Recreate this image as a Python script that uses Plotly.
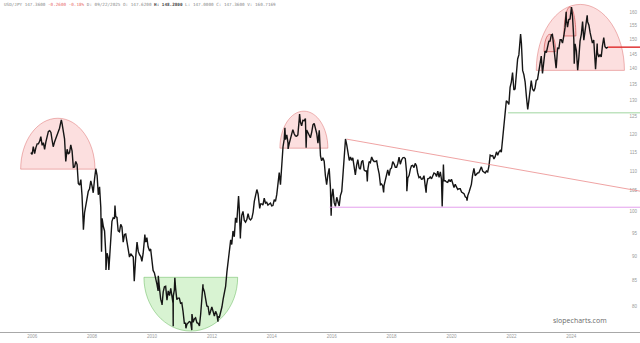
import plotly.graph_objects as go
import pandas as pd
import numpy as np

# ---------------- data (USD/JPY) ----------------
# month-end closes, Jun 2006 .. Aug 2025
monthly_close = [
    114.4, 114.6, 117.3, 118.0, 116.9, 115.8, 119.0,                                   # 2006 Jun-Dec
    121.0, 118.5, 117.8, 119.5, 121.7, 123.2, 118.7, 115.8, 114.9, 115.3, 111.1, 111.7,  # 2007
    106.4, 103.9, 99.7, 103.9, 105.5, 106.2, 108.0, 108.8, 106.0, 98.4, 95.5, 90.6,      # 2008
    89.9, 97.7, 98.3, 98.6, 95.3, 96.4, 94.7, 93.0, 89.8, 90.1, 86.4, 93.0,              # 2009
    90.3, 88.9, 93.5, 94.0, 91.2, 88.4, 86.5, 84.2, 83.5, 80.4, 83.7, 81.1,              # 2010
    82.0, 81.8, 83.1, 81.2, 81.5, 80.6, 76.8, 76.6, 77.1, 78.2, 77.6, 76.9,              # 2011
    76.3, 81.1, 82.8, 80.0, 78.3, 79.8, 78.1, 78.4, 77.9, 79.8, 82.5, 86.7,              # 2012
    91.7, 92.5, 94.2, 97.4, 100.5, 99.1, 97.9, 98.1, 98.3, 98.4, 102.4, 105.3,           # 2013
    102.0, 101.8, 103.2, 102.2, 101.8, 101.3, 102.8, 104.1, 109.6, 112.3, 118.6, 119.8,  # 2014
    117.5, 119.6, 120.1, 119.4, 124.1, 122.4, 123.9, 121.2, 119.9, 120.6, 123.1, 120.2,  # 2015
    121.1, 112.7, 112.6, 106.5, 110.7, 103.2, 102.1, 103.4, 101.3, 104.8, 114.5, 117.0,  # 2016
    112.8, 112.8, 111.4, 111.5, 110.8, 112.4, 110.3, 110.0, 112.5, 113.7, 112.5, 112.7,  # 2017
    109.2, 106.7, 106.3, 109.3, 108.8, 110.8, 111.9, 111.0, 113.7, 112.9, 113.6, 109.7,  # 2018
    108.9, 111.4, 110.9, 111.4, 108.3, 107.9, 108.8, 106.3, 108.1, 108.0, 109.5, 108.6,  # 2019
    108.4, 107.9, 107.5, 107.2, 107.8, 107.9, 105.8, 105.9, 105.5, 104.7, 104.3, 103.3,  # 2020
    104.7, 106.6, 110.7, 109.3, 109.6, 111.1, 109.7, 110.0, 111.3, 114.0, 113.2, 115.1,  # 2021
    115.1, 115.0, 121.7, 129.8, 128.7, 135.7, 133.2, 138.9, 144.7, 148.7, 138.1, 131.1,  # 2022
    130.1, 136.2, 132.8, 136.3, 139.3, 144.3, 142.3, 145.5, 149.4, 151.7, 148.2, 141.0,  # 2023
    146.9, 150.0, 151.3, 157.8, 157.3, 160.9, 150.0, 146.2, 143.6, 152.0, 149.8, 157.2,  # 2024
    155.2, 150.6, 149.9, 143.1, 144.0, 144.0, 150.7, 147.0,                              # 2025 Jan-Aug
]
# mid-month levels (15th), Jun 2006 .. Aug 2025
mid_month = [
    114.9, 116.5, 116.2, 117.3, 119.3, 117.6, 117.8,                                   # 2006
    120.8, 120.5, 116.5, 118.8, 120.6, 123.4, 121.5, 112.5, 114.5, 117.0, 111.0, 112.5,  # 2007
    106.8, 107.8, 97.0, 101.8, 104.8, 107.5, 104.5, 110.2, 104.0, 101.0, 96.5, 90.5,     # 2008
    89.5, 91.8, 98.5, 98.8, 95.5, 97.0, 93.0, 94.8, 91.0, 90.5, 89.8, 89.8,              # 2009
    91.0, 89.9, 90.5, 93.0, 92.0, 91.5, 87.0, 85.5, 84.8, 81.3, 82.7, 83.8,              # 2010
    82.9, 83.4, 80.5, 83.5, 81.5, 80.5, 79.0, 76.8, 76.9, 77.0, 77.0, 77.8,              # 2011
    76.8, 78.5, 83.5, 80.8, 79.9, 79.0, 79.0, 79.0, 78.0, 78.8, 81.3, 83.8,              # 2012
    89.0, 93.5, 95.5, 98.5, 102.5, 95.0, 100.0, 97.5, 99.5, 98.0, 99.8, 103.5,           # 2013
    104.2, 101.8, 101.5, 102.0, 101.5, 102.0, 101.4, 102.4, 107.2, 106.5, 116.5, 118.5,  # 2014
    117.5, 118.8, 121.3, 119.5, 119.8, 123.5, 124.0, 124.5, 120.5, 119.0, 122.7, 121.5,  # 2015
    117.5, 114.0, 113.5, 108.8, 109.0, 105.8, 105.5, 101.2, 102.2, 103.8, 109.0, 118.0,  # 2016
    114.5, 113.7, 113.5, 109.0, 113.0, 110.5, 112.8, 110.0, 110.5, 112.2, 112.9, 112.5,  # 2017
    110.8, 106.5, 106.2, 107.5, 110.3, 110.5, 112.5, 111.0, 112.0, 111.8, 113.5, 113.3,  # 2018
    108.2, 110.5, 111.5, 112.0, 109.5, 108.5, 108.0, 106.2, 108.0, 108.5, 108.8, 109.3,  # 2019
    110.0, 109.8, 107.0, 107.5, 107.1, 107.3, 107.0, 106.6, 105.3, 105.5, 104.5, 103.5,  # 2020
    103.8, 105.5, 109.0, 108.8, 109.5, 110.5, 110.0, 109.5, 109.8, 114.2, 114.1, 113.8,  # 2021
    114.2, 115.5, 118.5, 126.5, 129.5, 134.0, 138.8, 133.5, 143.3, 148.5, 139.5, 135.8,  # 2022
    128.5, 133.5, 133.5, 133.8, 136.5, 141.5, 138.5, 146.0, 147.5, 149.5, 151.3, 142.2,  # 2023
    147.0, 150.0, 148.8, 154.3, 154.5, 157.5, 158.5, 148.5, 140.8, 149.5, 156.5, 154.0,  # 2024
    156.5, 152.5, 148.8, 143.0, 145.5, 144.8, 147.8, 147.5,                              # 2025
]
month_end_dates = pd.date_range("2006-06-30", periods=len(monthly_close), freq="ME")
mid_dates = pd.date_range("2006-06-01", periods=len(mid_month), freq="MS") + pd.Timedelta(days=14)

# notable intra-month extremes
extreme_dates = [
    "2007-06-22", "2008-03-17", "2008-08-15", "2008-10-24", "2008-12-17", "2009-01-21",
    "2009-04-06", "2009-11-27", "2010-04-05", "2010-09-14", "2010-09-16", "2010-11-01",
    "2011-03-17", "2011-03-18", "2011-04-06", "2011-08-19", "2011-10-30", "2011-11-01",
    "2012-03-14", "2012-09-13", "2013-05-22", "2013-06-13", "2014-02-04", "2014-12-08",
    "2015-01-16", "2015-06-05", "2015-08-24", "2016-06-24", "2016-12-16", "2017-09-08",
    "2018-03-26", "2019-01-03", "2019-08-26", "2020-03-09", "2020-03-24", "2021-01-06",
    "2022-10-21", "2023-01-16", "2023-11-13", "2023-12-28", "2024-04-29", "2024-07-03",
    "2024-08-05", "2024-09-16", "2025-01-10", "2025-04-22", "2025-05-12",
]
extreme_values = [
    124.1, 95.8, 110.6, 90.9, 87.1, 87.1,
    101.4, 84.8, 94.7, 82.9, 85.9, 80.2,
    76.25, 81.9, 85.5, 75.9, 75.57, 78.5,
    84.2, 77.1, 103.7, 93.8, 100.7, 121.8,
    115.9, 125.86, 116.2, 99.0, 118.66, 107.3,
    104.6, 104.9, 104.5, 101.2, 111.7, 102.6,
    151.95, 127.2, 151.9, 140.25, 160.2, 161.95,
    141.7, 139.6, 158.9, 139.9, 148.6,
]
last_date = "2025-09-22"
last_close = 147.36

# tick labels
x_tick_dates = ["2006-07-01", "2008-07-01", "2010-07-01", "2012-07-01", "2014-07-01",
                "2016-07-01", "2018-07-01", "2020-07-01", "2022-07-01", "2024-07-01"]
x_tick_text = ["2006", "2008", "2010", "2012", "2014", "2016", "2018", "2020", "2022", "2024"]
y_tick_vals = [80, 85, 90, 95, 100, 105, 110, 115, 120, 125, 130, 135, 140, 145, 150, 155, 160]

# drawn annotations (domes / bowl / lines) in data units
dome_x0 = ["2006-02-11", "2014-10-08", "2023-04-30", "2023-08-03", "2024-04-01"]
dome_x1 = ["2008-08-05", "2016-05-15", "2026-04-09", "2023-12-24", "2024-08-25"]
dome_base = [110.5, 116.1, 139.5, 145.8, 151.3]
dome_top = [124.6, 126.7, 163.0, 151.9, 162.0]
bowl = ("2010-03-25", "2013-05-11", 85.6, 75.4)

# --------------------------------------------------------------------------------
series = pd.concat([
    pd.Series(monthly_close, index=month_end_dates),
    pd.Series(mid_month, index=mid_dates),
    pd.Series(extreme_values, index=pd.to_datetime(extreme_dates)),
    pd.Series([last_close], index=[pd.Timestamp(last_date)]),
]).sort_index(kind="stable")

x_start, x_end = "2005-06-04", "2026-10-16"

fig = go.Figure()
fig.add_trace(go.Scatter(
    x=series.index, y=series.values, mode="lines",
    line=dict(color="#151515", width=1.4), hoverinfo="skip", showlegend=False,
))


def dome_path(x0, x1, base, top):
    t0, t1 = pd.Timestamp(x0), pd.Timestamp(x1)
    span = t1 - t0
    k = 0.5523

    def tx(f):
        return (t0 + span * f).strftime("%Y-%m-%d")

    lb, lt = np.log10(base), np.log10(top)
    yc = 10 ** (lb + k * (lt - lb))
    return (f"M {tx(0)},{base} C {tx(0)},{yc} {tx(0.5 - 0.5 * k)},{top} {tx(0.5)},{top} "
            f"C {tx(0.5 + 0.5 * k)},{top} {tx(1)},{yc} {tx(1)},{base} Z")


shapes = []
for i in range(len(dome_x0)):
    small = i >= 3
    shapes.append(dict(
        type="path", xref="x", yref="y", layer="below",
        path=dome_path(dome_x0[i], dome_x1[i], dome_base[i], dome_top[i]),
        fillcolor="rgba(240,110,110,0.22)" if not small else "rgba(235,100,100,0.18)",
        line=dict(color="rgba(215,90,90,0.55)" if not small else "rgba(200,60,60,0.75)", width=0.8),
    ))
shapes.append(dict(
    type="path", xref="x", yref="y", layer="below",
    path=dome_path(*bowl),
    fillcolor="rgba(110,210,90,0.27)",
    line=dict(color="rgba(90,180,80,0.6)", width=0.8),
))
# trend line
shapes.append(dict(type="line", xref="x", yref="y", x0="2017-01-01", y0=118.6, x1=x_end, y1=104.9,
                   line=dict(color="rgba(230,110,110,0.8)", width=0.8)))
# support (violet)
shapes.append(dict(type="line", xref="x", yref="y", x0="2016-06-06", y0=101.0, x1=x_end, y1=101.0,
                   line=dict(color="rgba(225,150,235,0.9)", width=1)))
# green level
shapes.append(dict(type="line", xref="x", yref="y", x0="2022-05-21", y0=126.2, x1=x_end, y1=126.2,
                   line=dict(color="rgba(150,210,150,0.9)", width=1)))
# last price
shapes.append(dict(type="line", xref="x", yref="y", x0=last_date, y0=last_close, x1=x_end, y1=last_close,
                   line=dict(color="#e03535", width=1.5)))

title_html = ("USD/JPY 147.3600 <span style='color:#e86a6a'>-0.2600 -0.18%</span> "
              "D: 09/22/2025 O: 147.6200 <b style='color:#444'>H: 148.2800</b> "
              "L: 147.0000 C: 147.3600 V: 160.7169")

fig.update_layout(
    width=640, height=343,
    margin=dict(l=0, r=0, t=0, b=11),
    paper_bgcolor="white", plot_bgcolor="white",
    shapes=shapes,
    xaxis=dict(
        type="date", range=[x_start, x_end],
        tickvals=x_tick_dates, ticktext=x_tick_text,
        showgrid=False, zeroline=False, showline=True, linecolor="#a8a8a8", linewidth=1,
        ticks="", tickfont=dict(size=4.5, color="#9a9a9a", family="Liberation Sans"),
    ),
    yaxis=dict(
        type="log", side="right", range=[1.87642, 2.21672],
        tickvals=y_tick_vals, ticktext=[str(v) for v in y_tick_vals],
        ticklabelposition="inside", showgrid=False, zeroline=False, showline=False, ticks="",
        tickfont=dict(size=4.5, color="#9a9a9a", family="Liberation Sans"),
    ),
    annotations=[
        dict(text=title_html, xref="paper", yref="paper", x=0.003, y=1.0,
             xanchor="left", yanchor="top", showarrow=False,
             font=dict(size=4.3, color="#8a8a8a", family="DejaVu Sans Mono")),
        dict(text="slopecharts.com", xref="paper", yref="paper", x=0.951, y=0.036,
             xanchor="right", yanchor="middle", showarrow=False,
             font=dict(size=7, color="#6a6a6a", family="Open Sans")),
    ],
)

fig.write_html("out.html")
